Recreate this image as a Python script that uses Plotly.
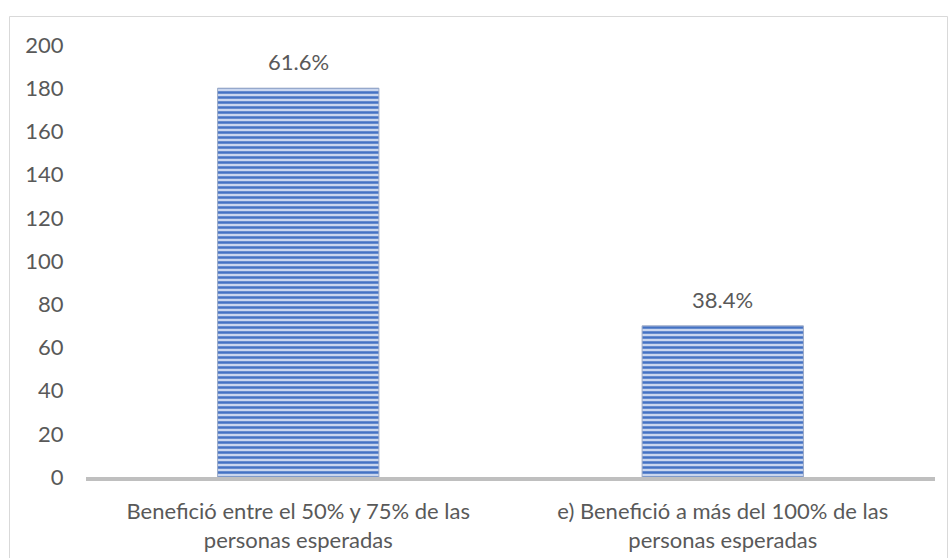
import plotly.graph_objects as go

categories = ["Benefició entre el 50% y 75% de las<br>personas esperadas",
              "e) Benefició a más del 100% de las<br>personas esperadas"]
values = [180, 70]
labels = ["61.6%", "38.4%"]
y_ticks = [0, 20, 40, 60, 80, 100, 120, 140, 160, 180, 200]

FONT = "Lato"
FS = 22
TXT = "#595959"

fig = go.Figure()
fig.add_trace(go.Bar(
    x=categories, y=values,
    width=0.38,
    marker=dict(
        color="#c9d6ef",
        line=dict(color="#9aa9c6", width=1),
        pattern=dict(shape="-", fgcolor="#4472c4", bgcolor="#c9d6ef",
                     size=5, solidity=0.5, fillmode="replace"),
    ),
    hoverinfo="skip",
))

for c, v, t in zip(categories, values, labels):
    fig.add_annotation(x=c, y=v, text=t, showarrow=False, yanchor="bottom",
                       yshift=11, font=dict(family=FONT, size=FS, color=TXT))

fig.add_shape(type="rect", xref="paper", yref="paper",
              x0=(9.5 - 86) / 849, x1=(947.5 - 86) / 849,
              y0=-0.3, y1=(477 - 16.5) / 432,
              line=dict(color="#d9d9d9", width=1), fillcolor="rgba(0,0,0,0)",
              layer="below")

fig.update_layout(
    width=948, height=558,
    margin=dict(l=86, r=13, t=45, b=81),
    paper_bgcolor="white", plot_bgcolor="white",
    showlegend=False,
    font=dict(family=FONT, size=FS, color=TXT),
    xaxis=dict(showline=True, linecolor="#bfbfbf", linewidth=3.5,
               ticks="outside", ticklen=12, tickcolor="rgba(0,0,0,0)",
               tickfont=dict(family=FONT, size=FS, color=TXT),
               showgrid=False, zeroline=False, automargin=False),
    yaxis=dict(range=[0, 200], tickvals=y_ticks, showgrid=False,
               zeroline=False, showline=False, automargin=False,
               ticks="outside", ticklen=17, tickcolor="rgba(0,0,0,0)",
               tickfont=dict(family=FONT, size=FS, color=TXT)),
)

fig.write_html("out.html", config={"displayModeBar": False},
               post_script="document.body.style.margin='0';document.body.style.padding='0';")
